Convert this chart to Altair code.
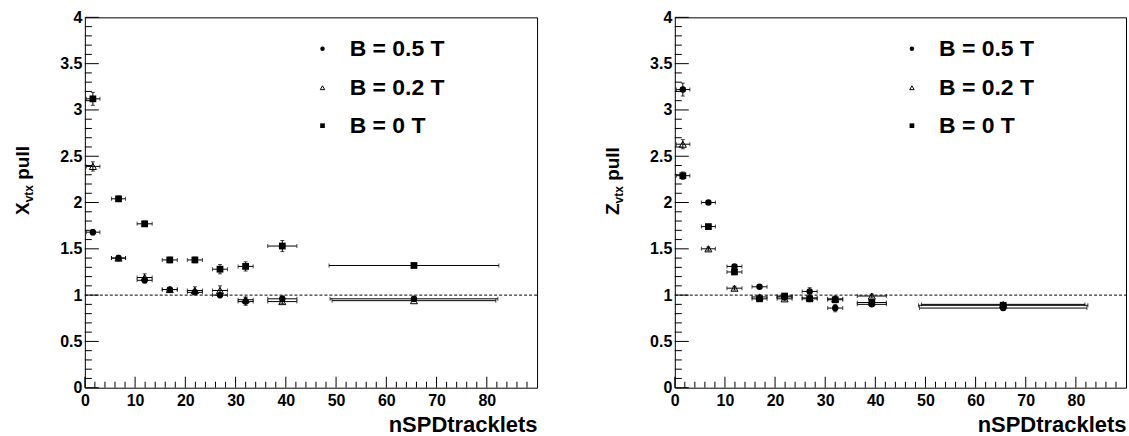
import altair as alt
import pandas as pd

FONT = "Liberation Sans"

# ---------------- data ----------------
series_names = ["B = 0.5 T", "B = 0.2 T", "B = 0 T"]

x_center = [1.6, 6.7, 11.9, 16.9, 21.9, 26.9, 32.0, 39.3, 65.5]
x_low = [0.3, 5.3, 10.4, 15.4, 20.4, 25.4, 30.5, 36.4, 48.8]
x_high = [3.0, 8.1, 13.4, 18.4, 23.4, 28.4, 33.5, 42.2, 82.2]
last_low = {"B = 0.5 T": 48.8, "B = 0.2 T": 49.2, "B = 0 T": 48.6}
last_high = {"B = 0.5 T": 82.2, "B = 0.2 T": 81.8, "B = 0 T": 82.4}

# X_vtx pull (left panel)
xpull_b05 = [1.68, 1.40, 1.16, 1.06, 1.03, 1.00, 0.93, 0.96, 0.96]
xpull_b02 = [2.39, 1.40, 1.19, 1.06, 1.05, 1.05, 0.95, 0.93, 0.94]
xpull_b0 = [3.12, 2.04, 1.77, 1.38, 1.38, 1.28, 1.31, 1.53, 1.32]
xpull_b05_err = [0.03, 0.03, 0.03, 0.02, 0.02, 0.03, 0.04, 0.03, 0.02]
xpull_b02_err = [0.05, 0.02, 0.04, 0.02, 0.04, 0.05, 0.03, 0.02, 0.01]
xpull_b0_err = [0.07, 0.03, 0.03, 0.03, 0.03, 0.05, 0.05, 0.06, 0.02]

# Z_vtx pull (right panel)
zpull_b05 = [3.22, 2.00, 1.31, 1.09, 0.98, 1.04, 0.86, 0.90, 0.86]
zpull_b02 = [2.63, 1.50, 1.075, 0.98, 0.96, 0.97, 0.96, 0.99, 0.90]
zpull_b0 = [2.29, 1.74, 1.25, 0.96, 0.99, 0.96, 0.95, 0.92, 0.89]
zpull_b05_err = [0.07, 0.02, 0.02, 0.02, 0.02, 0.04, 0.04, 0.02, 0.01]
zpull_b02_err = [0.05, 0.02, 0.02, 0.02, 0.02, 0.03, 0.03, 0.02, 0.01]
zpull_b0_err = [0.04, 0.02, 0.02, 0.02, 0.02, 0.03, 0.03, 0.02, 0.01]

# axis ticks
x_major = [0, 10, 20, 30, 40, 50, 60, 70, 80]
x_minor = [v for v in range(2, 90, 2) if v % 10 != 0]
y_major = [0, 0.5, 1, 1.5, 2, 2.5, 3, 3.5, 4]
y_minor = [round(i / 10, 1) for i in range(1, 40) if i % 5 != 0]

legend_y = [3.66, 3.24, 2.83]
legend_marker_x = 47.3
legend_text_x = 52.7

W_L, W_R, H = 453, 452, 371


def build_df(vals, errs):
    rows = []
    for name, v, e in zip(series_names, vals, errs):
        for i in range(len(x_center)):
            lo = x_low[i] if i < len(x_center) - 1 else last_low[name]
            hi = x_high[i] if i < len(x_center) - 1 else last_high[name]
            rows.append(dict(series=name, x=x_center[i], xlo=lo, xhi=hi,
                             y=v[i], ylo=v[i] - e[i], yhi=v[i] + e[i]))
    return pd.DataFrame(rows)


df_x = build_df([xpull_b05, xpull_b02, xpull_b0], [xpull_b05_err, xpull_b02_err, xpull_b0_err])
df_z = build_df([zpull_b05, zpull_b02, zpull_b0], [zpull_b05_err, zpull_b02_err, zpull_b0_err])

xs = alt.Scale(domain=[0, 90], nice=False, zero=False)
ys = alt.Scale(domain=[0, 4], nice=False, zero=False)

xaxis = alt.Axis(values=x_major, tickSize=0, domain=False, grid=False,
                 labelFont=FONT, labelFontWeight="bold", labelFontSize=16,
                 labelColor="black", labelPadding=5, labelFlush=False,
                 labelOverlap=False, title="nSPDtracklets", titleFont=FONT,
                 titleFontSize=22, titleFontWeight="bold", titleColor="black",
                 titleAnchor="end", titlePadding=6)
yaxis = alt.Axis(values=y_major, format=".1~f", tickSize=0, domain=False,
                 grid=False, labelFont=FONT, labelFontWeight="bold",
                 labelFontSize=16, labelColor="black", labelPadding=3,
                 labelFlush=False, labelOverlap=False, title=None)


def X(field):
    return alt.X(field, type="quantitative", scale=xs, axis=xaxis)


def Y(field):
    return alt.Y(field, type="quantitative", scale=ys, axis=yaxis)


def make_panel(df, W, letter, right_pad):
    layers = []
    # inside axis ticks
    layers.append(alt.Chart(pd.DataFrame({"v": y_major})).mark_rule(color="black", strokeWidth=1)
                  .encode(y=Y("v"), x=alt.value(0), x2=alt.value(14)))
    layers.append(alt.Chart(pd.DataFrame({"v": y_minor})).mark_rule(color="black", strokeWidth=1)
                  .encode(y=Y("v"), x=alt.value(0), x2=alt.value(7)))
    layers.append(alt.Chart(pd.DataFrame({"v": x_major})).mark_rule(color="black", strokeWidth=1)
                  .encode(x=X("v"), y=alt.value(H), y2=alt.value(H - 11)))
    layers.append(alt.Chart(pd.DataFrame({"v": x_minor})).mark_rule(color="black", strokeWidth=1)
                  .encode(x=X("v"), y=alt.value(H), y2=alt.value(H - 6)))
    # dashed reference line
    layers.append(alt.Chart(pd.DataFrame({"v": [1]})).mark_rule(color="black", strokeWidth=1, strokeDash=[3, 2])
                  .encode(y=Y("v"), x=alt.value(0), x2=alt.value(W)))
    base = alt.Chart(df)
    # error bars
    layers.append(base.mark_rule(color="black", strokeWidth=1).encode(x=X("xlo"), x2="xhi", y=Y("y")))
    layers.append(base.mark_rule(color="black", strokeWidth=1).encode(x=X("x"), y=Y("ylo"), y2="yhi"))
    layers.append(base.transform_fold(["xlo", "xhi"], as_=["k", "xe"])
                  .mark_tick(orient="vertical", size=4, thickness=1, color="black")
                  .encode(x=X("xe"), y=Y("y")))
    layers.append(base.transform_fold(["ylo", "yhi"], as_=["k", "ye"])
                  .mark_tick(orient="horizontal", size=4, thickness=1, color="black")
                  .encode(x=X("x"), y=Y("ye")))
    # markers
    layers.append(base.transform_filter(alt.datum.series == "B = 0.5 T")
                  .mark_point(shape="circle", filled=True, size=42, color="black", opacity=1)
                  .encode(x=X("x"), y=Y("y")))
    layers.append(base.transform_filter(alt.datum.series == "B = 0.2 T")
                  .mark_point(shape="triangle-up", filled=False, size=50, color="black", strokeWidth=1, opacity=1)
                  .encode(x=X("x"), y=Y("y")))
    layers.append(base.transform_filter(alt.datum.series == "B = 0 T")
                  .mark_point(shape="square", filled=True, size=46, color="black", opacity=1)
                  .encode(x=X("x"), y=Y("y")))
    # legend
    leg = pd.DataFrame({"label": series_names, "ly": legend_y,
                        "lx": [legend_marker_x] * 3, "tx": [legend_text_x] * 3})
    lb = alt.Chart(leg)
    layers.append(lb.transform_filter(alt.datum.label == "B = 0.5 T")
                  .mark_point(shape="circle", filled=True, size=20, color="black", opacity=1)
                  .encode(x=X("lx"), y=Y("ly")))
    layers.append(lb.transform_filter(alt.datum.label == "B = 0.2 T")
                  .mark_point(shape="triangle-up", filled=False, size=20, color="black", strokeWidth=1, opacity=1)
                  .encode(x=X("lx"), y=Y("ly")))
    layers.append(lb.transform_filter(alt.datum.label == "B = 0 T")
                  .mark_point(shape="square", filled=True, size=22, color="black", opacity=1)
                  .encode(x=X("lx"), y=Y("ly")))
    layers.append(lb.mark_text(align="left", baseline="middle", font=FONT, fontWeight="bold",
                               fontSize=23, color="black")
                  .encode(x=X("tx"), y=Y("ly"), text="label:N"))
    # y title with subscript
    fs = 19
    letter_w = (0.667 if letter == "X" else 0.611) * fs
    y0 = 198
    y1 = y0 - letter_w
    y2 = y1 - 1.445 * 12 - 0.278 * fs
    layers.append(alt.Chart(pd.DataFrame({"t": [letter]})).mark_text(
        angle=270, align="left", baseline="alphabetic", font=FONT,
        fontWeight="bold", fontSize=fs, color="black")
        .encode(text="t:N", x=alt.value(-56), y=alt.value(y0)))
    layers.append(alt.Chart(pd.DataFrame({"t": ["vtx"]})).mark_text(
        angle=270, align="left", baseline="alphabetic", font=FONT,
        fontWeight="bold", fontSize=12, color="black")
        .encode(text="t:N", x=alt.value(-52), y=alt.value(y1)))
    layers.append(alt.Chart(pd.DataFrame({"t": ["pull"]})).mark_text(
        angle=270, align="left", baseline="alphabetic", font=FONT,
        fontWeight="bold", fontSize=fs, color="black")
        .encode(text="t:N", x=alt.value(-56), y=alt.value(y2)))
    # invisible extents to fix the page layout
    bd = pd.DataFrame({"v": [0]})
    if right_pad:
        layers.append(alt.Chart(bd).mark_rule(opacity=0, strokeWidth=0.1)
                      .encode(x=alt.value(W + 2), y=alt.value(0), y2=alt.value(10)))
    else:
        layers.append(alt.Chart(bd).mark_rule(opacity=0, strokeWidth=0.1)
                      .encode(x=alt.value(-84), y=alt.value(-16), y2=alt.value(H + 49)))
    return alt.layer(*layers).properties(width=W, height=H)


left = make_panel(df_x, W_L, "X", False)
right = make_panel(df_z, W_R, "Z", True)

chart = alt.hconcat(left, right, spacing=138, bounds="flush").properties(
    padding=0, background="white"
).configure_view(stroke="black", strokeWidth=1)

chart.save("out.html", embed_options={"renderer": "svg", "actions": False})
